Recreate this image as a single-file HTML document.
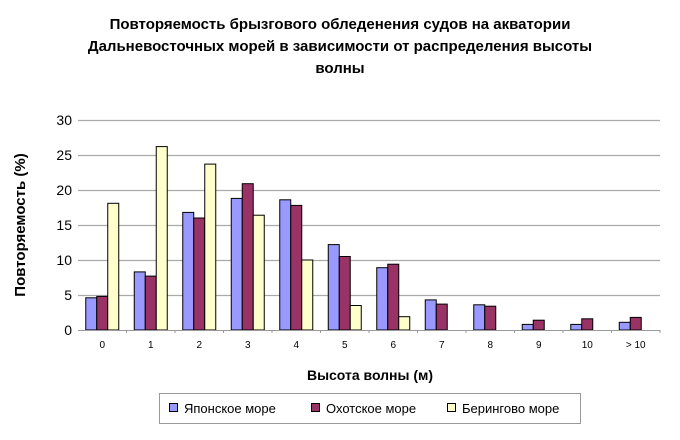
<!DOCTYPE html>
<html><head><meta charset="utf-8"><style>
body{margin:0;background:#fff;width:680px;height:435px;overflow:hidden;font-family:"Liberation Sans",sans-serif}
</style></head><body>
<svg id="c" width="680" height="435" xmlns="http://www.w3.org/2000/svg" font-family="Liberation Sans, sans-serif">
<text x="340" y="29" text-anchor="middle" font-size="15" font-weight="bold">Повторяемость брызгового обледенения судов на акватории</text>
<text x="340" y="51" text-anchor="middle" font-size="15" font-weight="bold">Дальневосточных морей в зависимости от распределения высоты</text>
<text x="340" y="73" text-anchor="middle" font-size="15" font-weight="bold">волны</text>
<g id="grid"></g><g id="bars"></g><g id="axes"></g>
<text transform="translate(25,225) rotate(-90)" text-anchor="middle" font-size="15" font-weight="bold">Повторяемость (%)</text>
<text x="370" y="380" text-anchor="middle" font-size="14" font-weight="bold">Высота волны (м)</text>
<g>
<rect x="159.5" y="393.5" width="421" height="30" fill="#fff" stroke="#999"/>
<rect x="169.5" y="403.5" width="8" height="8" fill="#9999ff" stroke="#000"/>
<text x="184" y="413" font-size="13">Японское море</text>
<rect x="311.5" y="403.5" width="8" height="8" fill="#993366" stroke="#000"/>
<text x="326" y="413" font-size="13">Охотское море</text>
<rect x="447.5" y="403.5" width="8" height="8" fill="#ffffcc" stroke="#000"/>
<text x="462" y="413" font-size="13">Берингово море</text>
</g>
</svg>
<script>
const categories=["0","1","2","3","4","5","6","7","8","9","10","> 10"];
const japan=[4.6,8.3,16.8,18.8,18.6,12.2,8.9,4.3,3.6,0.8,0.8,1.1];
const okhotsk=[4.8,7.7,16.0,20.9,17.8,10.5,9.4,3.7,3.4,1.4,1.6,1.8];
const bering=[18.1,26.2,23.7,16.4,10.0,3.5,1.9,0,0,0,0,0];
const yTicks=[0,5,10,15,20,25,30];
const NS="http://www.w3.org/2000/svg";
const X0=78,X1=660,Y0=330,Y1=120,YMAX=30;
const cw=(X1-X0)/categories.length;
function y(v){return Y0-(v/YMAX)*(Y0-Y1);}
function xc(i){return X0+cw*(i+0.5);}
function mk(tag,attrs,parent){const e=document.createElementNS(NS,tag);for(const k in attrs)e.setAttribute(k,attrs[k]);document.getElementById(parent).appendChild(e);return e;}
yTicks.forEach(t=>{
  if(t>0){const l=mk('line',{x1:X0,x2:X1,y1:y(t)+0.5,y2:y(t)+0.5,stroke:'#aaa','stroke-width':1.2},'grid');
  
  }
  const tx=mk('text',{x:X0-6,y:y(t)+5,'text-anchor':'end','font-size':14},'axes');tx.textContent=t;
  
  
});
const series=[[japan,'#9999ff','japan'],[okhotsk,'#993366','okhotsk'],[bering,'#ffffcc','bering']];
const bw=11;
categories.forEach((c,i)=>{
  series.forEach((s,j)=>{
    const v=s[0][i]; if(v<=0)return;
    const x=xc(i)-1.5*bw+j*bw;
    const r=mk('rect',{x:x,y:y(v),width:bw,height:Y0-y(v),fill:s[1],stroke:'#000','stroke-width':1},'bars');
    
    
  });
  const t=mk('text',{x:xc(i),y:Y0+18,'text-anchor':'middle','font-size':10},'axes');t.textContent=c;
  
  
  const tk=mk('line',{x1:X0+cw*(i+1),x2:X0+cw*(i+1),y1:Y0,y2:Y0+3,stroke:'#999'},'axes');
  
  
});
const ax=mk('line',{x1:X0,x2:X1,y1:Y0+0.5,y2:Y0+0.5,stroke:'#999'},'axes');


</script>
</body></html>
